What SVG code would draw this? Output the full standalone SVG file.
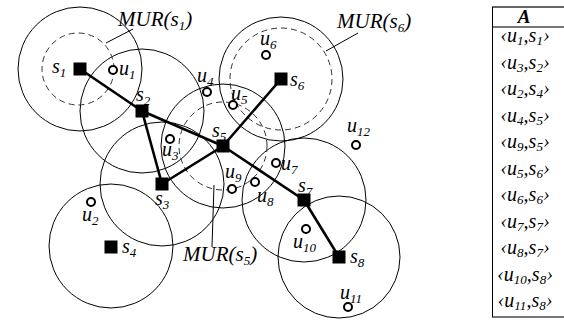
<svg xmlns="http://www.w3.org/2000/svg" width="564" height="320" viewBox="0 0 564 320">
<style>
.rc{fill:none;stroke:#000;stroke-width:1}
.mur{fill:none;stroke:#333;stroke-width:1;stroke-dasharray:6,4}
.site{fill:#000}
.user{fill:#fff;stroke:#000;stroke-width:2}
.link{stroke:#000;stroke-width:2.6;fill:none}
.lead{stroke:#000;stroke-width:1;fill:none}
text{font-family:"Liberation Serif","Times New Roman",serif;font-style:italic;fill:#000}
.lb{font-size:20px}
.ml{font-size:21px}
.sb{font-size:13px}
.tb{font-size:20px}
.ts{font-size:13px}
</style>
<rect width="564" height="320" fill="#fff"/>
<g id="ranges">
<circle class="rc" cx="80" cy="69" r="62"/>
<circle class="rc" cx="142" cy="111" r="62"/>
<circle class="rc" cx="162" cy="184" r="62"/>
<circle class="rc" cx="111" cy="246" r="62"/>
<circle class="rc" cx="223" cy="146" r="62"/>
<circle class="rc" cx="281" cy="79" r="62"/>
<circle class="rc" cx="304" cy="200" r="62"/>
<circle class="rc" cx="339" cy="257" r="61"/>
<circle class="mur" cx="78" cy="69" r="36"/>
<circle class="mur" cx="281" cy="79" r="51"/>
<circle class="mur" cx="223" cy="146" r="44"/>
</g>
<g id="connectors">
<line class="link" x1="80" y1="69" x2="142" y2="111"/>
<line class="link" x1="142" y1="111" x2="223" y2="146"/>
<line class="link" x1="142" y1="111" x2="162" y2="184"/>
<line class="link" x1="162" y1="184" x2="223" y2="146"/>
<line class="link" x1="223" y1="146" x2="281" y2="79"/>
<line class="link" x1="223" y1="146" x2="304" y2="200"/>
<line class="link" x1="304" y1="200" x2="339" y2="257"/>
<line class="lead" x1="106" y1="43" x2="133" y2="29"/>
<line class="lead" x1="326" y1="51" x2="358" y2="33"/>
<line class="lead" x1="214" y1="185" x2="212" y2="247"/>
</g>
<g id="s1"><rect class="site" x="73.5" y="62.5" width="13" height="13"/><text class="lb" x="52" y="73">s<tspan class="sb" dy="4">1</tspan></text></g>
<g id="s2"><rect class="site" x="135.5" y="104.5" width="13" height="13"/><text class="lb" x="136" y="101">s<tspan class="sb" dy="4">2</tspan></text></g>
<g id="s3"><rect class="site" x="155.5" y="177.5" width="13" height="13"/><text class="lb" x="155" y="205">s<tspan class="sb" dy="4">3</tspan></text></g>
<g id="s4"><rect class="site" x="104.5" y="240.5" width="13" height="13"/><text class="lb" x="122" y="253">s<tspan class="sb" dy="4">4</tspan></text></g>
<g id="s5"><rect class="site" x="216.5" y="139.5" width="13" height="13"/><text class="lb" x="212" y="137">s<tspan class="sb" dy="4">5</tspan></text></g>
<g id="s6"><rect class="site" x="274.5" y="72.5" width="13" height="13"/><text class="lb" x="290" y="86">s<tspan class="sb" dy="4">6</tspan></text></g>
<g id="s7"><rect class="site" x="297.5" y="193.5" width="13" height="13"/><text class="lb" x="298" y="192">s<tspan class="sb" dy="4">7</tspan></text></g>
<g id="s8"><rect class="site" x="332.5" y="250.5" width="13" height="13"/><text class="lb" x="350" y="263">s<tspan class="sb" dy="4">8</tspan></text></g>
<g id="u1"><circle class="user" cx="113" cy="70" r="4"/><text class="lb" x="119" y="75">u<tspan class="sb" dy="4">1</tspan></text></g>
<g id="u2"><circle class="user" cx="91" cy="202" r="4"/><text class="lb" x="82" y="221">u<tspan class="sb" dy="4">2</tspan></text></g>
<g id="u3"><circle class="user" cx="170" cy="139" r="4"/><text class="lb" x="162" y="156">u<tspan class="sb" dy="4">3</tspan></text></g>
<g id="u4"><circle class="user" cx="207" cy="92" r="4"/><text class="lb" x="197" y="82">u<tspan class="sb" dy="4">4</tspan></text></g>
<g id="u5"><circle class="user" cx="233" cy="105" r="4"/><text class="lb" x="231" y="100">u<tspan class="sb" dy="4">5</tspan></text></g>
<g id="u6"><circle class="user" cx="266" cy="55" r="4"/><text class="lb" x="260" y="45">u<tspan class="sb" dy="4">6</tspan></text></g>
<g id="u7"><circle class="user" cx="276" cy="163" r="4"/><text class="lb" x="281" y="170">u<tspan class="sb" dy="4">7</tspan></text></g>
<g id="u8"><circle class="user" cx="255" cy="182" r="4"/><text class="lb" x="257" y="202">u<tspan class="sb" dy="4">8</tspan></text></g>
<g id="u9"><circle class="user" cx="232" cy="189" r="4"/><text class="lb" x="225" y="178">u<tspan class="sb" dy="4">9</tspan></text></g>
<g id="u10"><circle class="user" cx="306" cy="229" r="4"/><text class="lb" x="293" y="248">u<tspan class="sb" dy="4">10</tspan></text></g>
<g id="u11"><circle class="user" cx="348" cy="307" r="4"/><text class="lb" x="340" y="299">u<tspan class="sb" dy="4">11</tspan></text></g>
<g id="u12"><circle class="user" cx="356" cy="145" r="4"/><text class="lb" x="347" y="132">u<tspan class="sb" dy="4">12</tspan></text></g>
<g id="mur-labels">
<text class="ml" x="118" y="26">MUR(s<tspan class="sb" dy="4">1</tspan><tspan dy="-4">)</tspan></text>
<text class="ml" x="337" y="28">MUR(s<tspan class="sb" dy="4">6</tspan><tspan dy="-4">)</tspan></text>
<text class="ml" x="183" y="261">MUR(s<tspan class="sb" dy="4">5</tspan><tspan dy="-4">)</tspan></text>
</g>
<g id="table">
<line x1="492" y1="7" x2="564" y2="7" stroke="#333" stroke-width="1.5"/>
<line x1="492" y1="27" x2="564" y2="27" stroke="#777" stroke-width="2"/>
<line x1="492" y1="317" x2="564" y2="317" stroke="#777" stroke-width="2"/>
<line x1="492.5" y1="7" x2="492.5" y2="317" stroke="#000" stroke-width="1"/>
<text x="524" y="23" font-size="19" font-weight="bold" text-anchor="middle">A</text>
<g text-anchor="middle">
<text class="tb" x="525" y="42">‹u<tspan class="ts" dy="3">1</tspan><tspan dy="-3">,s</tspan><tspan class="ts" dy="3">1</tspan><tspan dy="-3">›</tspan></text>
<text class="tb" x="525" y="68.5">‹u<tspan class="ts" dy="3">3</tspan><tspan dy="-3">,s</tspan><tspan class="ts" dy="3">2</tspan><tspan dy="-3">›</tspan></text>
<text class="tb" x="525" y="95">‹u<tspan class="ts" dy="3">2</tspan><tspan dy="-3">,s</tspan><tspan class="ts" dy="3">4</tspan><tspan dy="-3">›</tspan></text>
<text class="tb" x="525" y="121.5">‹u<tspan class="ts" dy="3">4</tspan><tspan dy="-3">,s</tspan><tspan class="ts" dy="3">5</tspan><tspan dy="-3">›</tspan></text>
<text class="tb" x="525" y="148">‹u<tspan class="ts" dy="3">9</tspan><tspan dy="-3">,s</tspan><tspan class="ts" dy="3">5</tspan><tspan dy="-3">›</tspan></text>
<text class="tb" x="525" y="174.5">‹u<tspan class="ts" dy="3">5</tspan><tspan dy="-3">,s</tspan><tspan class="ts" dy="3">6</tspan><tspan dy="-3">›</tspan></text>
<text class="tb" x="525" y="201">‹u<tspan class="ts" dy="3">6</tspan><tspan dy="-3">,s</tspan><tspan class="ts" dy="3">6</tspan><tspan dy="-3">›</tspan></text>
<text class="tb" x="525" y="227.5">‹u<tspan class="ts" dy="3">7</tspan><tspan dy="-3">,s</tspan><tspan class="ts" dy="3">7</tspan><tspan dy="-3">›</tspan></text>
<text class="tb" x="525" y="254">‹u<tspan class="ts" dy="3">8</tspan><tspan dy="-3">,s</tspan><tspan class="ts" dy="3">7</tspan><tspan dy="-3">›</tspan></text>
<text class="tb" x="525" y="280.5">‹u<tspan class="ts" dy="3">10</tspan><tspan dy="-3">,s</tspan><tspan class="ts" dy="3">8</tspan><tspan dy="-3">›</tspan></text>
<text class="tb" x="525" y="307">‹u<tspan class="ts" dy="3">11</tspan><tspan dy="-3">,s</tspan><tspan class="ts" dy="3">8</tspan><tspan dy="-3">›</tspan></text>
</g>
</g>
</svg>
